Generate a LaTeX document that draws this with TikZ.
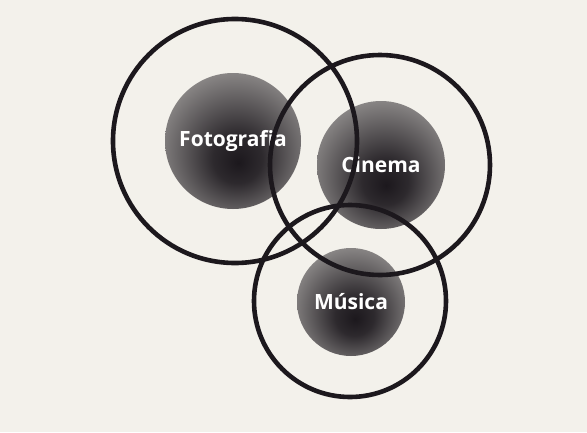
\documentclass[tikz,border=0pt]{standalone}
\usepackage{fontspec}
\setmainfont{Open Sans}
\usepackage{tikz}
\definecolor{pgpaper}{HTML}{F3F1EB}
\definecolor{pgink}{HTML}{1C181D}
\pgfdeclareradialshading{blob}{\pgfpoint{2bp}{-8bp}}{%
  color(0bp)=(pgink);
  color(9bp)=(pgink!92!pgpaper);
  color(22bp)=(pgink!64!pgpaper);
  color(34bp)=(pgink!38!pgpaper);
  color(43bp)=(pgink!22!pgpaper);
  color(50bp)=(pgink!5!pgpaper)}

\begin{document}
\begin{tikzpicture}[x=1pt,y=-1pt]
    \tikzset{area/.style={circle,shading=blob,inner sep=0pt,text=white,font=\fontsize{21}{25}\selectfont\bfseries},
      ring/.style={circle,draw=pgink,line width=4.6pt,inner sep=0pt}}
    \fill[pgpaper] (0,0) rectangle (587,432);
    % manchas
    \node[area,minimum size=136pt] (foto) at (233,141) {Fotografia};
    \node[area,minimum size=128pt] (cine) at (381,165) {Cinema};
    \node[area,minimum size=108pt] (musica) at (351,302) {Música};
    % circulos
    \node[ring,minimum size=244pt] (fotoring) at (235,141) {};
    \node[ring,minimum size=220pt] (cinering) at (380,165) {};
    \node[ring,minimum size=192pt] (musicaring) at (350,301) {};
  \end{tikzpicture}
\end{document}
